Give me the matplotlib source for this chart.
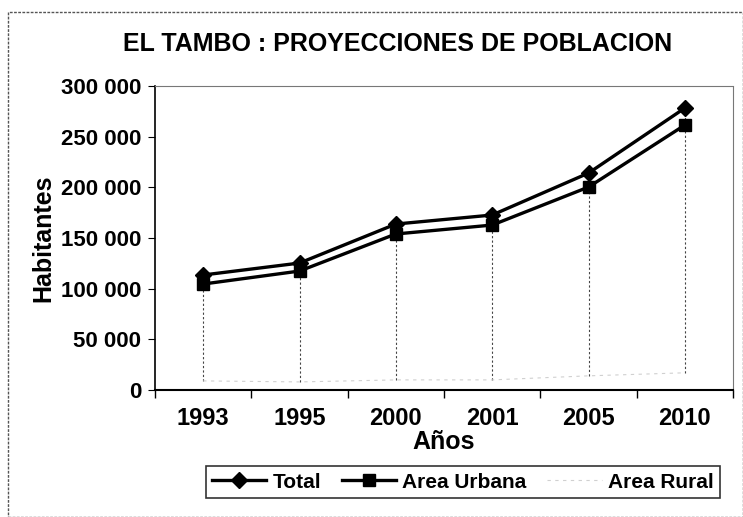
import numpy as np
import matplotlib.pyplot as plt
from matplotlib.patches import Rectangle

plt.rcParams['font.family'] = ['Liberation Sans', 'DejaVu Sans']

years = ['1993', '1995', '2000', '2001', '2005', '2010']
total = [113500, 125300, 163800, 172700, 214100, 278300]
urbana = [104600, 117400, 154000, 162800, 200300, 261500]
rural = [9000, 8000, 10000, 10000, 14000, 17000]

fig = plt.figure(figsize=(7.43, 5.17), dpi=100)
ax = fig.add_axes([0.2086, 0.2456, 0.778, 0.588])

x = np.arange(len(years))

# drop lines from the top series down to the rural line
ax.vlines(x, rural, total, colors='#444444', linestyles=(0, (2, 2)), linewidth=0.8, zorder=1)

ax.plot(x, total, color='black', linewidth=2.4, marker='D', markersize=8, label='Total', zorder=3)
ax.plot(x, urbana, color='black', linewidth=2.4, marker='s', markersize=8, label='Area Urbana', zorder=3)
ax.plot(x, rural, color='#d0d0d0', linewidth=0.8, linestyle=(0, (3, 4)), label='Area Rural', zorder=2)

ax.set_xlim(-0.5, len(years) - 0.5)
ax.set_ylim(0, 300000)
ax.set_yticks(np.arange(0, 300001, 50000))
ax.set_yticklabels(['0' if v == 0 else f'{v // 1000} 000' for v in range(0, 300001, 50000)])
ax.set_xticks(np.arange(-0.5, len(years)))
ax.set_xticklabels([])
ax.set_xticks(x, minor=True)
ax.set_xticklabels(years, minor=True)
ax.tick_params(axis='x', which='minor', length=0, pad=12, labelsize=17)
ax.tick_params(axis='x', which='major', length=6, direction='out', width=1)
ax.tick_params(axis='y', length=5, direction='out', labelsize=16, pad=5)
for lab in ax.get_xticklabels(minor=True) + ax.get_yticklabels():
    lab.set_fontweight('bold')

for s in ['top', 'right']:
    ax.spines[s].set_linestyle((0, (1, 1)))
    ax.spines[s].set_color('#777777')
    ax.spines[s].set_linewidth(0.8)
ax.spines['left'].set_linewidth(1.2)
ax.spines['bottom'].set_linewidth(1.5)

ax.set_xlabel('Años', fontsize=18, fontweight='bold', labelpad=0)
ax.set_ylabel('Habitantes', fontsize=18, fontweight='bold', labelpad=4)

fig.text(0.535, 0.915, 'EL TAMBO : PROYECCIONES DE POBLACION', ha='center', va='center',
         fontsize=18, fontweight='bold')

leg = fig.legend(loc='center', bbox_to_anchor=(0.623, 0.0675), ncol=3, frameon=True,
                 fancybox=False, edgecolor='black', prop={'size': 15, 'weight': 'bold'},
                 handlelength=2.6, handletextpad=0.3, columnspacing=1.0, borderpad=0.3)
leg.get_frame().set_linewidth(1.2)

fig.patches.append(Rectangle((0.011, 0.0), 0.989, 0.977, transform=fig.transFigure,
                             fill=False, edgecolor='#555555', linewidth=1.0, linestyle=(0, (2, 1))))

fig.savefig('out.png', dpi=100)
